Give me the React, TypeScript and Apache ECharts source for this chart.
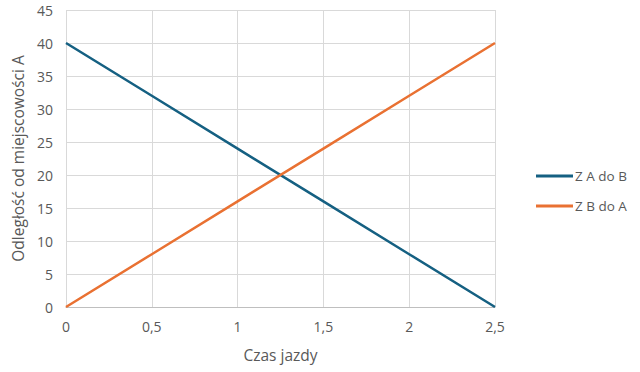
import React, { useEffect, useRef } from "react";
import * as echarts from "echarts";

const times = [0, 0.5, 1, 1.5, 2, 2.5];
const fromAtoB = [40, 32, 24, 16, 8, 0];
const fromBtoA = [0, 8, 16, 24, 32, 40];
const seriesNames = ["Z A do B", "Z B do A"];
const colors = ["#156082", "#E97132"];
const xTitle = "Czas jazdy";
const yTitle = "Odległość od miejscowości A";

const FONT = "'Open Sans', sans-serif";
const GREY = "#595959";

export default function App() {
  const ref = useRef<HTMLDivElement>(null);
  useEffect(() => {
    if (!ref.current) return;
    const chart = echarts.init(ref.current, undefined, { renderer: "svg" });
    const mk = (vals: number[]) => times.map((t, i) => [t, vals[i]]);
    chart.setOption({
      animation: false,
      textStyle: { fontFamily: FONT },
      grid: { left: 66, top: 10, width: 429, height: 297, containLabel: false },
      legend: {
        orient: "vertical",
        left: 531,
        top: 164,
        itemWidth: 37,
        itemHeight: 3,
        itemGap: 16,
        icon: "rect",
        textStyle: { color: GREY, fontSize: 13.5, fontFamily: FONT, padding: [0, 0, 0, -3] },
        data: seriesNames,
      },
      xAxis: {
        type: "value",
        min: 0,
        max: 2.5,
        interval: 0.5,
        name: xTitle,
        nameLocation: "middle",
        nameGap: 40,
        nameTextStyle: { color: GREY, fontSize: 15.5, fontFamily: FONT },
        axisLine: { show: true, lineStyle: { color: "#bfbfbf", width: 1 } },
        axisTick: { show: false },
        axisLabel: {
          color: GREY,
          fontSize: 14,
          margin: 12,
          formatter: (v: number) => String(v).replace(".", ","),
        },
        splitLine: { show: true, lineStyle: { color: "#d9d9d9", width: 1 } },
      },
      yAxis: {
        type: "value",
        min: 0,
        max: 45,
        interval: 5,
        name: yTitle,
        nameLocation: "middle",
        nameGap: 40,
        nameRotate: 90,
        nameTextStyle: { color: GREY, fontSize: 15.5, fontFamily: FONT },
        axisLine: { show: false },
        axisTick: { show: false },
        axisLabel: { color: GREY, fontSize: 14, margin: 13 },
        splitLine: { show: true, lineStyle: { color: "#d9d9d9", width: 1 } },
      },
      series: [
        {
          name: seriesNames[0],
          type: "line",
          data: mk(fromAtoB),
          showSymbol: false,
          symbol: "none",
          lineStyle: { color: colors[0], width: 2.5 },
          itemStyle: { color: colors[0] },
        },
        {
          name: seriesNames[1],
          type: "line",
          data: mk(fromBtoA),
          showSymbol: false,
          symbol: "none",
          lineStyle: { color: colors[1], width: 2.5 },
          itemStyle: { color: colors[1] },
        },
      ],
    });
    return () => chart.dispose();
  }, []);
  return <div ref={ref} style={{ width: 640, height: 372, position: "absolute", left: 0, top: 0 }} />;
}
